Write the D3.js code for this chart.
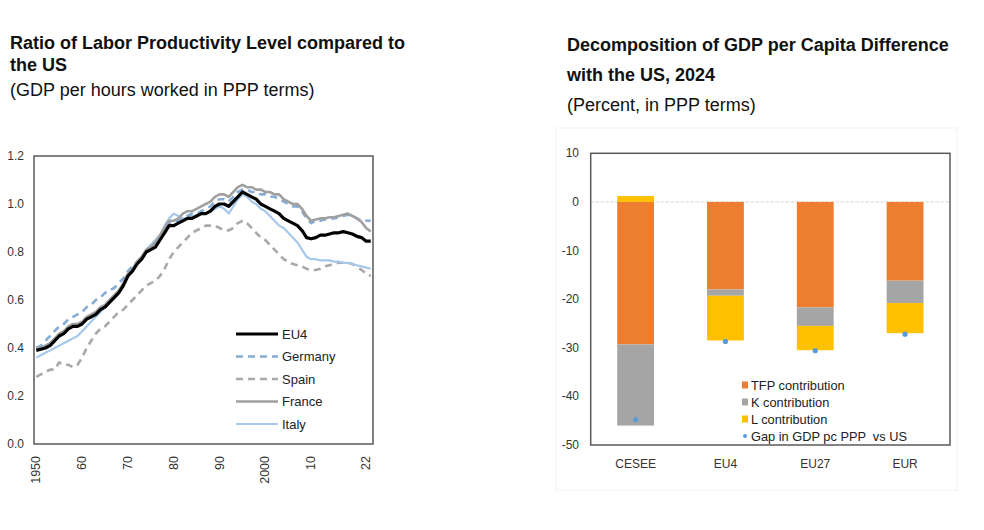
<!DOCTYPE html>
<html>
<head>
<meta charset="utf-8">
<script src="https://cdn.jsdelivr.net/npm/d3@7"></script>
<style>
    body { margin: 0; background: #fff; }
    svg { display: block; font-family: "Liberation Sans", Arial, sans-serif; }
</style>
</head>
<body>
<div id="chart"></div>
<script>
// left chart: ratio of labor productivity to the US, 1950-2023
const years = d3.range(1950, 2024);
const xTickYears = [1950, 1960, 1970, 1980, 1990, 2000, 2010, 2022];
const xTickLabels = ['1950', '60', '70', '80', '90', '2000', '10', '22'];
const yTicksLeft = [0, 0.2, 0.4, 0.6, 0.8, 1.0, 1.2];

const eu4 = [
    .39, .395, .40, .41, .43, .45, .46, .48, .49, .49,
    .50, .52, .53, .54, .56, .57, .59, .61, .63, .66,
    .70, .72, .75, .77, .80, .81, .82, .85, .88, .91,
    .91, .92, .93, .94, .94, .95, .96, .96, .97, .99,
    1.00, 1.00, .99, 1.01, 1.03, 1.05, 1.04, 1.03, 1.02, 1.00,
    .99, .98, .97, .96, .94, .93, .92, .91, .89, .86,
    .855, .86, .87, .87, .875, .88, .88, .885, .88, .875,
    .865, .86, .845, .845
];
const germany = [
    .40, .41, .43, .45, .47, .49, .50, .52, .53, .54,
    .55, .57, .58, .60, .61, .63, .64, .65, .67, .69,
    .72, .74, .76, .78, .80, .82, .84, .86, .89, .92,
    .93, .93, .94, .95, .96, .96, .97, .98, .99, 1.01,
    1.02, 1.02, 1.01, 1.03, 1.05, 1.06, 1.06, 1.05, 1.05, 1.04,
    1.04, 1.03, 1.03, 1.02, 1.01, 1.00, .99, .99, .97, .94,
    .92, .93, .93, .935, .94, .94, .945, .95, .955, .95,
    .94, .93, .93, .93
];
const spain = [
    .28, .29, .30, .31, .31, .34, .33, .33, .32, .33,
    .36, .40, .43, .46, .48, .49, .51, .53, .55, .56,
    .58, .60, .62, .64, .66, .67, .68, .70, .73, .77,
    .80, .82, .84, .86, .88, .89, .90, .91, .91, .91,
    .90, .89, .89, .90, .92, .93, .92, .90, .88, .86,
    .85, .83, .81, .79, .77, .76, .75, .745, .74, .73,
    .725, .725, .73, .74, .745, .75, .755, .755, .755, .75,
    .74, .725, .71, .70
];
const france = [
    .40, .40, .41, .42, .44, .46, .47, .49, .50, .50,
    .51, .53, .54, .55, .57, .58, .60, .62, .64, .67,
    .71, .73, .76, .78, .81, .82, .84, .87, .90, .93,
    .93, .94, .96, .97, .97, .98, .99, 1.00, 1.01, 1.03,
    1.04, 1.04, 1.03, 1.05, 1.07, 1.08, 1.07, 1.07, 1.06, 1.06,
    1.05, 1.05, 1.04, 1.04, 1.02, 1.01, 1.00, 1.00, .98, .95,
    .93, .935, .94, .94, .945, .945, .95, .955, .96, .95,
    .94, .925, .90, .885
];
const italy = [
    .36, .37, .38, .39, .40, .41, .42, .43, .44, .45,
    .47, .49, .51, .53, .55, .57, .59, .61, .63, .66,
    .70, .73, .75, .78, .81, .83, .85, .87, .91, .94,
    .96, .95, .94, .94, .95, .95, .96, .96, .97, .98,
    .99, .98, .96, .99, 1.02, 1.04, 1.03, 1.01, 1.00, .98,
    .97, .95, .93, .91, .90, .88, .86, .84, .81, .78,
    .77, .77, .765, .765, .765, .76, .76, .755, .755, .75,
    .745, .74, .735, .73
];

// right chart: decomposition of GDP per capita gap, 2024
const groups = ['CESEE', 'EU4', 'EU27', 'EUR'];
const tfp = [-29.3, -18.0, -21.7, -16.2];
const kContrib = [-16.7, -1.3, -3.8, -4.6];
const lContrib = [1.2, -9.2, -5.0, -6.2];
const gap = [-44.8, -28.7, -30.6, -27.2];
const yTicksRight = [10, 0, -10, -20, -30, -40, -50];

const width = 984;
const height = 530;

const svg = d3.select('#chart')
    .append('svg')
    .attr('width', width)
    .attr('height', height);

// ---------- titles ----------
function addTitle(x, lines) {
    lines.forEach(l => {
        svg.append('text')
            .attr('x', x)
            .attr('y', l.y)
            .attr('font-size', 18)
            .attr('font-weight', l.bold ? 'bold' : 'normal')
            .attr('fill', '#111')
            .text(l.text);
    });
}
addTitle(10, [
    { text: 'Ratio of Labor Productivity Level compared to', y: 49, bold: true },
    { text: 'the US', y: 71, bold: true },
    { text: '(GDP per hours worked in PPP terms)', y: 96, bold: false }
]);
addTitle(567, [
    { text: 'Decomposition of GDP per Capita Difference', y: 51, bold: true },
    { text: 'with the US, 2024', y: 81, bold: true },
    { text: '(Percent, in PPP terms)', y: 111, bold: false }
]);

// ---------- left line chart ----------
const xL = d3.scaleLinear().domain([1949.5, 2023.5]).range([34, 373]);
const yL = d3.scaleLinear().domain([0, 1.2]).range([444, 156]);

const left = svg.append('g');

left.selectAll('.ytick')
    .data(yTicksLeft)
    .enter()
    .append('text')
    .attr('x', 24)
    .attr('y', d => yL(d) + 4)
    .attr('text-anchor', 'end')
    .attr('font-size', 12)
    .attr('fill', '#333')
    .text(d => d.toFixed(1));

left.selectAll('.xtick')
    .data(xTickYears)
    .enter()
    .append('text')
    .attr('transform', d => `translate(${xL(d) + 4},456) rotate(-90)`)
    .attr('text-anchor', 'end')
    .attr('font-size', 12.5)
    .attr('fill', '#333')
    .text((d, i) => xTickLabels[i]);

const series = [
    { name: 'Spain', values: spain, color: '#a9a9a9', width: 2.6, dash: '7,5' },
    { name: 'Italy', values: italy, color: '#a6c8ea', width: 2.2, dash: null },
    { name: 'Germany', values: germany, color: '#86acd6', width: 2.6, dash: '7,5' },
    { name: 'France', values: france, color: '#a0a0a0', width: 2.6, dash: null },
    { name: 'EU4', values: eu4, color: '#000000', width: 3.2, dash: null }
];

const line = d3.line()
    .x((d, i) => xL(years[i]))
    .y(d => yL(d));

series.forEach(s => {
    left.append('path')
        .datum(s.values)
        .attr('fill', 'none')
        .attr('stroke', s.color)
        .attr('stroke-width', s.width)
        .attr('stroke-dasharray', s.dash)
        .attr('stroke-linejoin', 'round')
        .attr('d', line);
});

left.append('rect')
    .attr('x', 34).attr('y', 156)
    .attr('width', 339).attr('height', 288)
    .attr('fill', 'none')
    .attr('stroke', '#595959')
    .attr('stroke-width', 1.5);

// legend (EU4 first)
const legendOrder = ['EU4', 'Germany', 'Spain', 'France', 'Italy'];
legendOrder.forEach((name, i) => {
    const s = series.find(d => d.name === name);
    const ly = 334 + i * 22.5;
    left.append('line')
        .attr('x1', 236).attr('x2', 278)
        .attr('y1', ly).attr('y2', ly)
        .attr('stroke', s.color)
        .attr('stroke-width', s.width)
        .attr('stroke-dasharray', s.dash);
    left.append('text')
        .attr('x', 282)
        .attr('y', ly + 4.5)
        .attr('font-size', 13)
        .attr('fill', '#222')
        .text(name);
});

// ---------- right stacked bar chart ----------
const xR = d3.scaleBand().domain(groups).range([590.7, 950]).paddingInner(0.59).paddingOuter(0.295);
const yR = d3.scaleLinear().domain([-50, 10]).range([445, 153.3]);

const right = svg.append('g');

// faint chart-area frame
right.append('rect')
    .attr('x', 556).attr('y', 128)
    .attr('width', 401).attr('height', 362)
    .attr('fill', 'none')
    .attr('stroke', '#f2f2f2')
    .attr('stroke-width', 1);

right.selectAll('.ytick')
    .data(yTicksRight)
    .enter()
    .append('text')
    .attr('x', 579)
    .attr('y', d => yR(d) + 4)
    .attr('text-anchor', 'end')
    .attr('font-size', 12)
    .attr('fill', '#333')
    .text(d => d);

right.append('line')
    .attr('x1', 590.7).attr('x2', 950)
    .attr('y1', yR(0)).attr('y2', yR(0))
    .attr('stroke', '#d0d0d0')
    .attr('stroke-width', 1)
    .attr('stroke-dasharray', '3,2');

const rows = groups.map((g, i) => ({ group: g, TFP: tfp[i], K: kContrib[i], L: lContrib[i] }));
const keys = ['TFP', 'K', 'L'];
const barColors = { TFP: '#ed7d31', K: '#a5a5a5', L: '#ffc000' };

const stacked = d3.stack().keys(keys).offset(d3.stackOffsetDiverging)(rows);

right.selectAll('.layer')
    .data(stacked)
    .enter()
    .append('g')
    .attr('fill', d => barColors[d.key])
    .selectAll('rect')
    .data(d => d)
    .enter()
    .append('rect')
    .attr('x', d => xR(d.data.group))
    .attr('y', d => yR(Math.max(d[0], d[1])))
    .attr('width', xR.bandwidth())
    .attr('height', d => Math.abs(yR(d[0]) - yR(d[1])));

right.selectAll('.gapdot')
    .data(gap)
    .enter()
    .append('circle')
    .attr('cx', (d, i) => xR(groups[i]) + xR.bandwidth() / 2)
    .attr('cy', d => yR(d))
    .attr('r', 2.6)
    .attr('fill', '#5b9bd5');

right.append('rect')
    .attr('x', 590.7).attr('y', 153.3)
    .attr('width', 359.3).attr('height', 291.7)
    .attr('fill', 'none')
    .attr('stroke', '#595959')
    .attr('stroke-width', 1.5);

right.selectAll('.xlabel')
    .data(groups)
    .enter()
    .append('text')
    .attr('x', d => xR(d) + xR.bandwidth() / 2)
    .attr('y', 468)
    .attr('text-anchor', 'middle')
    .attr('font-size', 12)
    .attr('fill', '#333')
    .text(d => d);

const legendItems = [
    { label: 'TFP contribution', color: barColors.TFP, dot: false },
    { label: 'K contribution', color: barColors.K, dot: false },
    { label: 'L contribution', color: barColors.L, dot: false },
    { label: 'Gap in GDP pc PPP  vs US', color: '#5b9bd5', dot: true }
];
legendItems.forEach((item, i) => {
    const ly = 385 + i * 17;
    if (item.dot) {
        right.append('circle')
            .attr('cx', 745).attr('cy', ly)
            .attr('r', 2)
            .attr('fill', item.color);
    } else {
        right.append('rect')
            .attr('x', 742).attr('y', ly - 3.5)
            .attr('width', 6).attr('height', 7)
            .attr('fill', item.color);
    }
    right.append('text')
        .attr('x', 751)
        .attr('y', ly + 4.5)
        .attr('font-size', 12.8)
        .attr('fill', '#222')
        .style('white-space', 'pre')
        .text(item.label);
});
</script>
</body>
</html>
